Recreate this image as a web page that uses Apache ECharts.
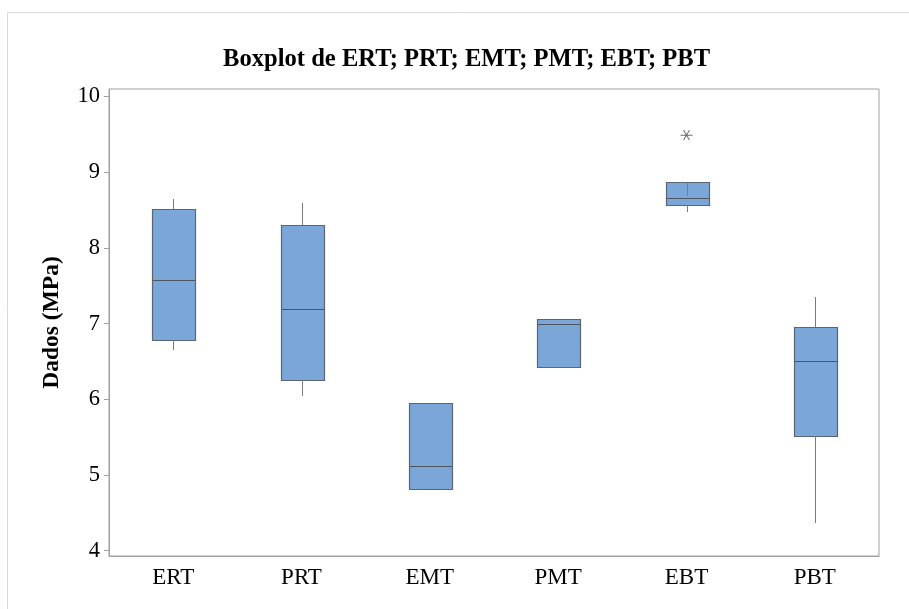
<!DOCTYPE html>
<html>
<head>
<meta charset="utf-8">
<script src="https://cdn.jsdelivr.net/npm/echarts@6/dist/echarts.min.js"></script>
<style>
  html, body { margin: 0; padding: 0; background: #ffffff; }
  #chart { width: 909px; height: 609px; }
</style>
</head>
<body>
<div id="chart"></div>
<script>
// Five-number summaries of each sample (MPa)
const categories = ['ERT', 'PRT', 'EMT', 'PMT', 'EBT', 'PBT'];
const lowWhisker = [6.65, 6.05, 4.82, 6.43, 8.47, 4.37];
const q1 = [6.79, 6.25, 4.82, 6.43, 8.57, 5.52];
const medians = [7.57, 7.19, 5.12, 7.00, 8.66, 6.50];
const q3 = [8.51, 8.30, 5.95, 7.06, 8.87, 6.96];
const highWhisker = [8.65, 8.59, 5.95, 7.06, 8.69, 7.35];
// Points beyond the whiskers: [category index, value]
const outliers = [[4, 9.49]];
const yTicks = [4, 5, 6, 7, 8, 9, 10];

const boxData = categories.map((c, i) => [i, lowWhisker[i], q1[i], medians[i], q3[i], highWhisker[i]]);

const serif = '"Liberation Serif", "Times New Roman", serif';

function renderBox(params, api) {
  const idx = api.value(0);
  const lo = api.coord([idx, api.value(1)]);
  const b1 = api.coord([idx, api.value(2)]);
  const md = api.coord([idx, api.value(3)]);
  const b3 = api.coord([idx, api.value(4)]);
  const hi = api.coord([idx, api.value(5)]);
  const w = api.size([1, 0])[0] * 0.332;
  const x = Math.round(lo[0]) + 0.5;
  const left = Math.round(x - w / 2);
  const right = Math.round(x + w / 2);
  const whiskerStyle = { stroke: '#7a7a7a', lineWidth: 1 };
  return {
    type: 'group',
    children: [
      {
        type: 'rect',
        shape: { x: left + 0.5, y: Math.round(b3[1]) + 0.5, width: right - left, height: Math.round(b1[1]) - Math.round(b3[1]) },
        style: { fill: '#7ba6d8', stroke: '#5c6672', lineWidth: 1.2 }
      },
      {
        type: 'line',
        shape: { x1: x, y1: Math.round(b1[1]), x2: x, y2: Math.round(lo[1]) },
        style: whiskerStyle
      },
      {
        type: 'line',
        shape: { x1: x, y1: Math.round(b3[1]), x2: x, y2: Math.round(hi[1]) },
        style: whiskerStyle
      },
      {
        type: 'line',
        shape: { x1: left + 0.5, y1: Math.round(md[1]) + 0.5, x2: right + 0.5, y2: Math.round(md[1]) + 0.5 },
        style: { stroke: '#4d5560', lineWidth: 1.2 }
      }
    ]
  };
}

const chart = echarts.init(document.getElementById('chart'), null, { renderer: 'canvas' });
chart.setOption({
  backgroundColor: '#ffffff',
  animation: false,
  title: {
    text: 'Boxplot de ERT; PRT; EMT; PMT; EBT; PBT',
    left: 218,
    top: 42,
    textStyle: { fontFamily: serif, fontWeight: 'bold', fontSize: 24.6, color: '#000000' }
  },
  graphic: [
    {
      type: 'rect',
      shape: { x: 7.5, y: 12.5, width: 1000, height: 700 },
      style: { fill: 'none', stroke: '#d9d9d9', lineWidth: 1 },
      silent: true,
      z: -10
    }
  ],
  grid: {
    left: 109, top: 89, right: 30, bottom: 53,
    show: true, borderColor: '#a0a0a0', borderWidth: 1, backgroundColor: 'transparent'
  },
  xAxis: {
    type: 'category',
    data: categories,
    boundaryGap: true,
    axisLine: { lineStyle: { color: '#a0a0a0' } },
    axisTick: { alignWithLabel: true, length: 6, lineStyle: { color: '#a0a0a0' } },
    axisLabel: { fontFamily: serif, fontSize: 23, color: '#000000', margin: 10 },
    splitLine: { show: false }
  },
  yAxis: {
    type: 'value',
    min: 3.93,
    max: 10.1,
    name: 'Dados (MPa)',
    nameLocation: 'middle',
    nameGap: 45,
    nameTextStyle: { fontFamily: serif, fontWeight: 'bold', fontSize: 23.5, color: '#000000' },
    axisLine: { show: true, lineStyle: { color: '#a0a0a0' } },
    axisTick: { show: true, length: 5, customValues: yTicks, lineStyle: { color: '#a0a0a0' } },
    axisLabel: { fontFamily: serif, fontSize: 22.5, color: '#000000', margin: 9, customValues: yTicks },
    splitLine: { show: false }
  },
  series: [
    {
      type: 'custom',
      renderItem: renderBox,
      data: boxData,
      encode: { x: 0, y: [1, 2, 3, 4, 5] },
      z: 2
    },
    {
      type: 'scatter',
      data: outliers,
      symbol: 'path://M0,5 L12,5 M3,0 L9,10 M9,0 L3,10',
      symbolSize: [12, 10],
      itemStyle: { color: 'none', borderColor: '#444444', borderWidth: 1 },
      z: 3
    }
  ]
});
</script>
</body>
</html>
